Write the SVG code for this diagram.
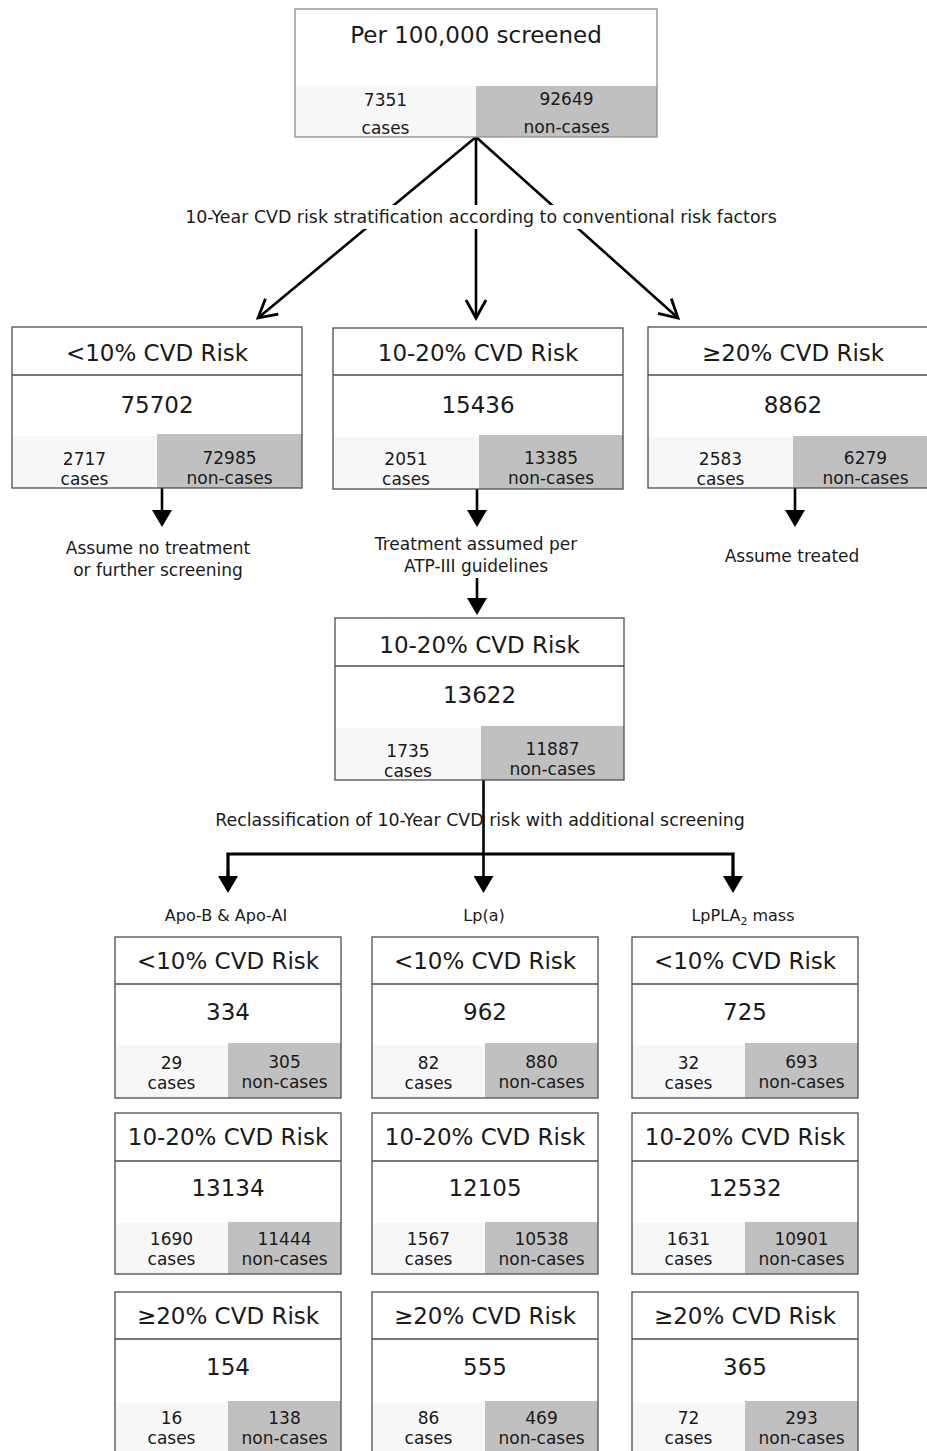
<svg xmlns="http://www.w3.org/2000/svg" width="927" height="1451" viewBox="0 0 927 1451">
<style>
.bx{fill:none;stroke:#4d4d4d;stroke-width:1.3}
.bx0{fill:none;stroke:#8c8c8c;stroke-width:1.3}
.bg{fill:#ffffff}
.lc{fill:#f7f7f7}
.gc{fill:#c0c0c0}
.dv{stroke:#4d4d4d;stroke-width:1.3}
.t{font-family:"DejaVu Sans",Verdana,"Liberation Sans",sans-serif;fill:#1a1a1a;text-anchor:middle}
.h{font-size:23px}
.s{font-size:17px}
.m{font-size:17.4px}
.l{font-size:16px}
.cn{stroke:#000;stroke-width:2.6;fill:none}
.bar{stroke:#000;stroke-width:3.2;fill:none}
</style>
<defs>
<marker id="open" viewBox="0 0 24 24" refX="21" refY="12" markerWidth="24" markerHeight="24" markerUnits="userSpaceOnUse" orient="auto">
<path d="M3,2 L21,12 L3,22" fill="none" stroke="#000" stroke-width="2.8"/>
</marker>
<marker id="fill" viewBox="0 0 17 20" refX="7" refY="10" markerWidth="17" markerHeight="20" markerUnits="userSpaceOnUse" orient="auto">
<path d="M0,0 L17,10 L0,20 z" fill="#000"/>
</marker>
</defs>
<rect width="927" height="1451" fill="#fff"/>

<g id="connectors">
<line class="cn" x1="476" y1="137" x2="258" y2="318" marker-end="url(#open)"/>
<line class="cn" x1="476" y1="137" x2="476" y2="318" marker-end="url(#open)"/>
<line class="cn" x1="476" y1="137" x2="678" y2="318" marker-end="url(#open)"/>
<rect x="179" y="205" width="604" height="24" fill="#fff"/>
<text class="t m" x="481" y="223">10-Year CVD risk stratification according to conventional risk factors</text>
<line class="cn" x1="162" y1="488" x2="162" y2="517" marker-end="url(#fill)"/>
<line class="cn" x1="477" y1="489" x2="477" y2="517" marker-end="url(#fill)"/>
<line class="cn" x1="795" y1="488" x2="795" y2="517" marker-end="url(#fill)"/>
<text class="t s" x="158" y="554">Assume no treatment</text>
<text class="t s" x="158" y="576">or further screening</text>
<text class="t s" x="476" y="550">Treatment assumed per</text>
<text class="t s" x="476" y="572">ATP-III guidelines</text>
<text class="t s" x="792" y="562">Assume treated</text>
<line class="cn" x1="477" y1="578" x2="477" y2="605" marker-end="url(#fill)"/>
<line class="cn" x1="483.5" y1="780" x2="483.5" y2="883" marker-end="url(#fill)"/>
<polyline class="bar" points="228,883 228,854 733,854 733,883"/>
<line class="cn" x1="228" y1="870" x2="228" y2="883" marker-end="url(#fill)"/>
<line class="cn" x1="733" y1="870" x2="733" y2="883" marker-end="url(#fill)"/>
<text class="t m" x="480" y="826">Reclassification of 10-Year CVD risk with additional screening</text>
<text class="t l" x="226" y="921">Apo-B &amp; Apo-AI</text>
<text class="t l" x="484" y="921">Lp(a)</text>
<text class="t l" x="743" y="921">LpPLA<tspan font-size="11" dy="4">2</tspan><tspan dy="-4"> mass</tspan></text>
</g>

<g id="n-top">
<rect class="bg" x="295" y="9" width="362" height="128"/>
<rect class="lc" x="295" y="86" width="181" height="51"/>
<rect class="gc" x="476" y="86" width="181" height="51"/>
<rect class="bx0" x="295" y="9" width="362" height="128"/>
<text class="t h" x="476" y="43">Per 100,000 screened</text>
<text class="t s" x="385.5" y="106">7351</text>
<text class="t s" x="385.5" y="134">cases</text>
<text class="t s" x="566.5" y="105">92649</text>
<text class="t s" x="566.5" y="133">non-cases</text>
</g>

<g id="n-low">
<rect class="bg" x="12" y="327" width="290" height="161"/>
<rect class="lc" x="12" y="436" width="145" height="52"/>
<rect class="gc" x="157" y="434" width="145" height="54"/>
<rect class="bx" x="12" y="327" width="290" height="161"/>
<line class="dv" x1="12" y1="375" x2="302" y2="375"/>
<text class="t h" x="157" y="361">&lt;10% CVD Risk</text>
<text class="t h" x="157" y="413">75702</text>
<text class="t s" x="84.5" y="465">2717</text>
<text class="t s" x="84.5" y="485">cases</text>
<text class="t s" x="229.5" y="463.5">72985</text>
<text class="t s" x="229.5" y="483.5">non-cases</text>
</g>

<g id="n-mid">
<rect class="bg" x="333" y="328" width="290" height="161"/>
<rect class="lc" x="333" y="437" width="146" height="52"/>
<rect class="gc" x="479" y="435" width="144" height="54"/>
<rect class="bx" x="333" y="328" width="290" height="161"/>
<line class="dv" x1="333" y1="375" x2="623" y2="375"/>
<text class="t h" x="478" y="361">10-20% CVD Risk</text>
<text class="t h" x="478" y="413">15436</text>
<text class="t s" x="406" y="465">2051</text>
<text class="t s" x="406" y="485">cases</text>
<text class="t s" x="551" y="463.5">13385</text>
<text class="t s" x="551" y="483.5">non-cases</text>
</g>

<g id="n-high">
<rect class="bg" x="648" y="327" width="290" height="161"/>
<rect class="lc" x="648" y="437" width="145" height="51"/>
<rect class="gc" x="793" y="436" width="145" height="52"/>
<rect class="bx" x="648" y="327" width="290" height="161"/>
<line class="dv" x1="648" y1="375" x2="938" y2="375"/>
<text class="t h" x="793" y="361">≥20% CVD Risk</text>
<text class="t h" x="793" y="413">8862</text>
<text class="t s" x="720.5" y="465">2583</text>
<text class="t s" x="720.5" y="485">cases</text>
<text class="t s" x="865.5" y="463.5">6279</text>
<text class="t s" x="865.5" y="483.5">non-cases</text>
</g>

<g id="n-mid2">
<rect class="bg" x="335" y="618" width="289" height="162"/>
<rect class="lc" x="335" y="728" width="146" height="52"/>
<rect class="gc" x="481" y="726" width="143" height="54"/>
<rect class="bx" x="335" y="618" width="289" height="162"/>
<line class="dv" x1="335" y1="666" x2="624" y2="666"/>
<text class="t h" x="479.5" y="652.5">10-20% CVD Risk</text>
<text class="t h" x="479.5" y="702.5">13622</text>
<text class="t s" x="408" y="756.5">1735</text>
<text class="t s" x="408" y="776.5">cases</text>
<text class="t s" x="552.5" y="754.5">11887</text>
<text class="t s" x="552.5" y="774.5">non-cases</text>
</g>

<g id="n-apo-low">
<rect class="bg" x="115" y="937" width="226" height="161"/>
<rect class="lc" x="115" y="1045" width="113" height="53"/>
<rect class="gc" x="228" y="1043" width="113" height="55"/>
<rect class="bx" x="115" y="937" width="226" height="161"/>
<line class="dv" x1="115" y1="984" x2="341" y2="984"/>
<text class="t h" x="228" y="969">&lt;10% CVD Risk</text>
<text class="t h" x="228" y="1020">334</text>
<text class="t s" x="171.5" y="1069">29</text>
<text class="t s" x="171.5" y="1089">cases</text>
<text class="t s" x="284.5" y="1067.5">305</text>
<text class="t s" x="284.5" y="1087.5">non-cases</text>
</g>

<g id="n-lpa-low">
<rect class="bg" x="372" y="937" width="226" height="161"/>
<rect class="lc" x="372" y="1045" width="113" height="53"/>
<rect class="gc" x="485" y="1043" width="113" height="55"/>
<rect class="bx" x="372" y="937" width="226" height="161"/>
<line class="dv" x1="372" y1="984" x2="598" y2="984"/>
<text class="t h" x="485" y="969">&lt;10% CVD Risk</text>
<text class="t h" x="485" y="1020">962</text>
<text class="t s" x="428.5" y="1069">82</text>
<text class="t s" x="428.5" y="1089">cases</text>
<text class="t s" x="541.5" y="1067.5">880</text>
<text class="t s" x="541.5" y="1087.5">non-cases</text>
</g>

<g id="n-pla-low">
<rect class="bg" x="632" y="937" width="226" height="161"/>
<rect class="lc" x="632" y="1045" width="113" height="53"/>
<rect class="gc" x="745" y="1043" width="113" height="55"/>
<rect class="bx" x="632" y="937" width="226" height="161"/>
<line class="dv" x1="632" y1="984" x2="858" y2="984"/>
<text class="t h" x="745" y="969">&lt;10% CVD Risk</text>
<text class="t h" x="745" y="1020">725</text>
<text class="t s" x="688.5" y="1069">32</text>
<text class="t s" x="688.5" y="1089">cases</text>
<text class="t s" x="801.5" y="1067.5">693</text>
<text class="t s" x="801.5" y="1087.5">non-cases</text>
</g>

<g id="n-apo-mid">
<rect class="bg" x="115" y="1113" width="226" height="161"/>
<rect class="lc" x="115" y="1223" width="113" height="51"/>
<rect class="gc" x="228" y="1222" width="113" height="52"/>
<rect class="bx" x="115" y="1113" width="226" height="161"/>
<line class="dv" x1="115" y1="1161" x2="341" y2="1161"/>
<text class="t h" x="228" y="1145">10-20% CVD Risk</text>
<text class="t h" x="228" y="1196">13134</text>
<text class="t s" x="171.5" y="1245">1690</text>
<text class="t s" x="171.5" y="1265">cases</text>
<text class="t s" x="284.5" y="1245">11444</text>
<text class="t s" x="284.5" y="1265">non-cases</text>
</g>

<g id="n-lpa-mid">
<rect class="bg" x="372" y="1113" width="226" height="161"/>
<rect class="lc" x="372" y="1223" width="113" height="51"/>
<rect class="gc" x="485" y="1222" width="113" height="52"/>
<rect class="bx" x="372" y="1113" width="226" height="161"/>
<line class="dv" x1="372" y1="1161" x2="598" y2="1161"/>
<text class="t h" x="485" y="1145">10-20% CVD Risk</text>
<text class="t h" x="485" y="1196">12105</text>
<text class="t s" x="428.5" y="1245">1567</text>
<text class="t s" x="428.5" y="1265">cases</text>
<text class="t s" x="541.5" y="1245">10538</text>
<text class="t s" x="541.5" y="1265">non-cases</text>
</g>

<g id="n-pla-mid">
<rect class="bg" x="632" y="1113" width="226" height="161"/>
<rect class="lc" x="632" y="1223" width="113" height="51"/>
<rect class="gc" x="745" y="1222" width="113" height="52"/>
<rect class="bx" x="632" y="1113" width="226" height="161"/>
<line class="dv" x1="632" y1="1161" x2="858" y2="1161"/>
<text class="t h" x="745" y="1145">10-20% CVD Risk</text>
<text class="t h" x="745" y="1196">12532</text>
<text class="t s" x="688.5" y="1245">1631</text>
<text class="t s" x="688.5" y="1265">cases</text>
<text class="t s" x="801.5" y="1245">10901</text>
<text class="t s" x="801.5" y="1265">non-cases</text>
</g>

<g id="n-apo-high">
<rect class="bg" x="115" y="1292" width="226" height="161"/>
<rect class="lc" x="115" y="1402" width="113" height="51"/>
<rect class="gc" x="228" y="1401" width="113" height="52"/>
<rect class="bx" x="115" y="1292" width="226" height="161"/>
<line class="dv" x1="115" y1="1339" x2="341" y2="1339"/>
<text class="t h" x="228" y="1324">≥20% CVD Risk</text>
<text class="t h" x="228" y="1375">154</text>
<text class="t s" x="171.5" y="1424">16</text>
<text class="t s" x="171.5" y="1444">cases</text>
<text class="t s" x="284.5" y="1424">138</text>
<text class="t s" x="284.5" y="1444">non-cases</text>
</g>

<g id="n-lpa-high">
<rect class="bg" x="372" y="1292" width="226" height="161"/>
<rect class="lc" x="372" y="1402" width="113" height="51"/>
<rect class="gc" x="485" y="1401" width="113" height="52"/>
<rect class="bx" x="372" y="1292" width="226" height="161"/>
<line class="dv" x1="372" y1="1339" x2="598" y2="1339"/>
<text class="t h" x="485" y="1324">≥20% CVD Risk</text>
<text class="t h" x="485" y="1375">555</text>
<text class="t s" x="428.5" y="1424">86</text>
<text class="t s" x="428.5" y="1444">cases</text>
<text class="t s" x="541.5" y="1424">469</text>
<text class="t s" x="541.5" y="1444">non-cases</text>
</g>

<g id="n-pla-high">
<rect class="bg" x="632" y="1292" width="226" height="161"/>
<rect class="lc" x="632" y="1402" width="113" height="51"/>
<rect class="gc" x="745" y="1401" width="113" height="52"/>
<rect class="bx" x="632" y="1292" width="226" height="161"/>
<line class="dv" x1="632" y1="1339" x2="858" y2="1339"/>
<text class="t h" x="745" y="1324">≥20% CVD Risk</text>
<text class="t h" x="745" y="1375">365</text>
<text class="t s" x="688.5" y="1424">72</text>
<text class="t s" x="688.5" y="1444">cases</text>
<text class="t s" x="801.5" y="1424">293</text>
<text class="t s" x="801.5" y="1444">non-cases</text>
</g>
</svg>
